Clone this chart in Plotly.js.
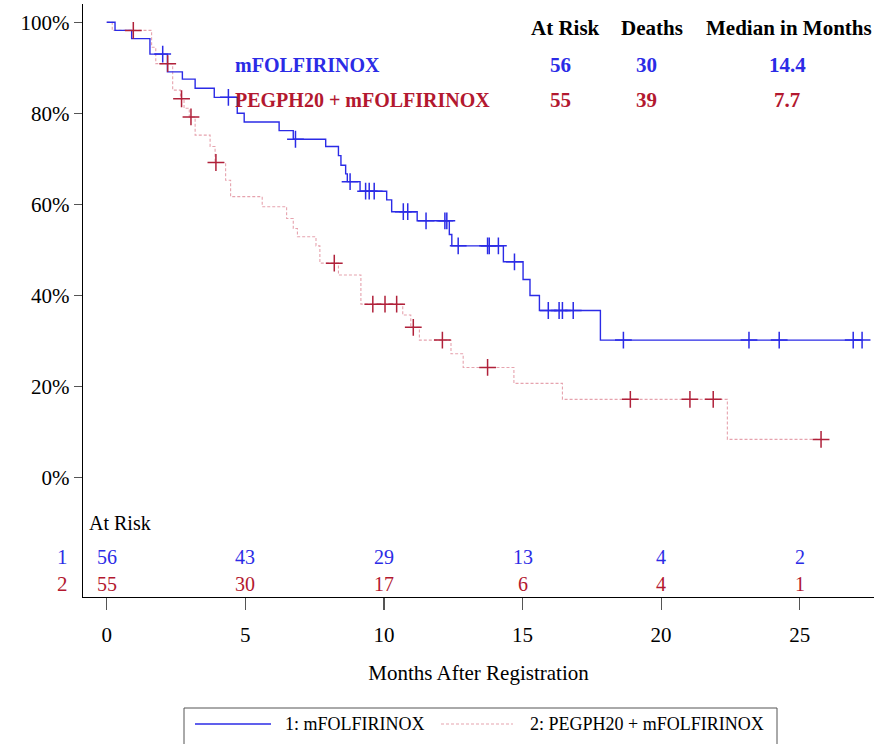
<!DOCTYPE html>
<html>
<head>
<meta charset="utf-8">
<script src="https://cdn.plot.ly/plotly-3.0.1.min.js"></script>
<style>html,body{margin:0;padding:0;background:#fff;}#chart{width:884px;height:744px;}</style>
</head>
<body>
<div id="chart"></div>
<script>
// ---- Data ----
const arm1Name = "mFOLFIRINOX";
const arm2Name = "PEGPH20 + mFOLFIRINOX";

// Arm 1: event times (months) and survival (%) after each step
const months1 = [0, 0.3, 0.9, 1.56, 2.19, 2.73, 3.19, 3.88, 4.71, 4.96, 6.22, 6.73, 7.9, 8.36, 8.45, 8.62, 8.68, 9.14, 10.1, 10.28, 11.2, 12.36, 12.45, 14.31, 15.02, 15.27, 15.61, 17.81];
const surv1   = [100, 98.2, 96.4, 93.0, 89.1, 87.5, 85.5, 83.5, 80.0, 78.1, 76.2, 74.3, 72.7, 70.7, 68.6, 66.7, 65.0, 62.9, 61.0, 58.4, 56.4, 53.4, 50.9, 47.4, 43.5, 40.0, 36.7, 30.2];
const censor1 = [2.02, 4.39, 6.81, 8.78, 9.34, 9.47, 9.65, 10.7, 10.86, 11.52, 12.2, 12.27, 12.68, 13.74, 13.8, 14.13, 14.71, 15.93, 16.32, 16.44, 16.83, 18.64, 23.17, 24.26, 26.93, 27.25];

// Arm 2
const months2 = [0, 0.2, 1.62, 1.77, 2.38, 2.66, 2.79, 2.98, 3.19, 3.73, 3.91, 4.29, 4.47, 5.61, 6.49, 6.73, 6.88, 7.55, 7.69, 8.36, 9.17, 10.68, 10.97, 11.28, 12.42, 12.86, 14.69, 16.44, 22.39];
const surv2   = [100, 98.2, 94.5, 90.9, 85.1, 83.2, 81.1, 79.2, 75.2, 72.7, 69.2, 65.3, 61.7, 59.5, 56.9, 54.7, 52.9, 50.9, 47.1, 44.5, 38.1, 35.7, 33.0, 30.2, 27.2, 24.2, 20.7, 17.2, 8.4];
const censor2 = [0.96, 2.2, 2.7, 3.04, 3.94, 8.21, 9.6, 10.04, 10.46, 11.06, 12.11, 13.74, 18.89, 21.04, 21.88, 25.77];

// Summary table
const summaryHeaders = ["At Risk", "Deaths", "Median in Months"];
const summaryArm1 = ["56", "30", "14.4"];
const summaryArm2 = ["55", "39", "7.7"];

// Numbers at risk
const riskTimes = [0, 5, 10, 15, 20, 25];
const risk1 = [56, 43, 29, 13, 4, 2];
const risk2 = [55, 30, 17, 6, 4, 1];

const yTickVals = [0, 20, 40, 60, 80, 100];
const yTickText = ["0%", "20%", "40%", "60%", "80%", "100%"];
const xTickVals = [0, 5, 10, 15, 20, 25];

// ---- Styles ----
const FONT = "Liberation Serif, Times New Roman, serif";
const BLUE = "#2B2BE6";
const RED_TEXT = "#B3182F";
const RED_LINE = "#E6A3AE";
const RED_MARK = "#B0213A";

// Layout geometry (pixels)
const W = 884, H = 744;
const M = {l: 83, r: 10, t: 4, b: 147};
const PW = W - M.l - M.r, PH = H - M.t - M.b;
const px2x = p => (p - M.l) / PW;
const px2y = p => (H - M.b - p) / PH;

function survAt(times, surv, t) {
  let s = surv[0];
  for (let i = 0; i < times.length; i++) if (times[i] <= t) s = surv[i];
  return s;
}

function stepTrace(times, surv, censors, color, dash, width) {
  const last = Math.max(times[times.length - 1], censors[censors.length - 1]);
  return {
    type: "scatter", mode: "lines",
    x: times.concat([last]), y: surv.concat([surv[surv.length - 1]]),
    line: {shape: "hv", color: color, width: width, dash: dash},
    showlegend: false, hoverinfo: "skip"
  };
}
function censorTrace(times, surv, censors, color, size) {
  return {
    type: "scatter", mode: "markers",
    x: censors, y: censors.map(t => survAt(times, surv, t)),
    marker: {symbol: "cross-thin", size: size, color: color, line: {color: color, width: 1.5}},
    showlegend: false, hoverinfo: "skip", cliponaxis: false
  };
}

const traces = [
  stepTrace(months2, surv2, censor2, RED_LINE, "3px,2px", 1.1),
  stepTrace(months1, surv1, censor1, BLUE, "solid", 1.4),
  censorTrace(months2, surv2, censor2, RED_MARK, 12),
  censorTrace(months1, surv1, censor1, BLUE, 12)
];

const annotations = [];
// summary table header
const colX = [565, 652, 789];
const valX = [560, 646, 787];
summaryHeaders.forEach((h, i) => annotations.push({
  text: h, xref: "paper", yref: "paper", x: px2x(colX[i]), y: px2y(28),
  xanchor: "center", yanchor: "middle", showarrow: false,
  font: {family: FONT, size: 21, color: "#000", weight: "bold"}
}));
annotations.push({text: arm1Name, xref: "paper", yref: "paper", x: px2x(233), y: px2y(65),
  xanchor: "left", yanchor: "middle", showarrow: false, font: {family: FONT, size: 20, color: BLUE, weight: "bold"}});
annotations.push({text: arm2Name, xref: "paper", yref: "paper", x: px2x(233), y: px2y(100),
  xanchor: "left", yanchor: "middle", showarrow: false, font: {family: FONT, size: 20, color: RED_TEXT, weight: "bold"}});
summaryArm1.forEach((v, i) => annotations.push({
  text: v, xref: "paper", yref: "paper", x: px2x(valX[i]), y: px2y(65),
  xanchor: "center", yanchor: "middle", showarrow: false,
  font: {family: FONT, size: 21, color: BLUE, weight: "bold"}
}));
summaryArm2.forEach((v, i) => annotations.push({
  text: v, xref: "paper", yref: "paper", x: px2x(valX[i]), y: px2y(100),
  xanchor: "center", yanchor: "middle", showarrow: false,
  font: {family: FONT, size: 21, color: RED_TEXT, weight: "bold"}
}));

// At-risk table
annotations.push({text: "At Risk", xref: "paper", yref: "paper", x: px2x(87), y: px2y(523),
  xanchor: "left", yanchor: "middle", showarrow: false, font: {family: FONT, size: 20, color: "#000"}});
annotations.push({text: "1", xref: "paper", yref: "paper", x: px2x(62), y: px2y(557),
  xanchor: "center", yanchor: "middle", showarrow: false, font: {family: FONT, size: 21, color: BLUE}});
annotations.push({text: "2", xref: "paper", yref: "paper", x: px2x(62), y: px2y(584),
  xanchor: "center", yanchor: "middle", showarrow: false, font: {family: FONT, size: 21, color: RED_TEXT}});
riskTimes.forEach((t, i) => {
  annotations.push({text: String(risk1[i]), xref: "x", yref: "paper", x: t, y: px2y(557),
    xanchor: "center", yanchor: "middle", showarrow: false, font: {family: FONT, size: 20, color: BLUE}});
  annotations.push({text: String(risk2[i]), xref: "x", yref: "paper", x: t, y: px2y(584),
    xanchor: "center", yanchor: "middle", showarrow: false, font: {family: FONT, size: 20, color: RED_TEXT}});
});

// Custom legend
annotations.push({text: "1: " + arm1Name, xref: "paper", yref: "paper", x: px2x(283), y: px2y(724),
  xanchor: "left", yanchor: "middle", showarrow: false, font: {family: FONT, size: 18, color: "#000"}});
annotations.push({text: "2: " + arm2Name, xref: "paper", yref: "paper", x: px2x(528), y: px2y(724),
  xanchor: "left", yanchor: "middle", showarrow: false, font: {family: FONT, size: 18, color: "#000"}});

const shapes = [
  {type: "rect", xref: "paper", yref: "paper", x0: px2x(184), x1: px2x(777), y0: px2y(708), y1: px2y(760),
   line: {color: "#555", width: 1}, fillcolor: "rgba(0,0,0,0)"},
  {type: "line", xref: "paper", yref: "paper", x0: px2x(195), x1: px2x(271), y0: px2y(724), y1: px2y(724),
   line: {color: BLUE, width: 1.4}},
  {type: "line", xref: "paper", yref: "paper", x0: px2x(441), x1: px2x(513), y0: px2y(724), y1: px2y(724),
   line: {color: RED_LINE, width: 1.1, dash: "3px,2px"}}
];

const layout = {
  width: W, height: H,
  margin: M,
  paper_bgcolor: "#fff", plot_bgcolor: "#fff",
  font: {family: FONT, color: "#000"},
  showlegend: false,
  xaxis: {
    range: [-0.855, 27.68], tickvals: xTickVals, ticks: "outside", ticklen: 12, tickwidth: 1.2, tickcolor: "#555",
    showline: true, linecolor: "#000", linewidth: 1.3, showgrid: false, zeroline: false,
    tickfont: {family: FONT, size: 21, color: "#000"}, ticklabelstandoff: 6,
    title: {text: "Months After Registration", font: {family: FONT, size: 21, color: "#000"}, standoff: 19}
  },
  yaxis: {
    range: [-26.2, 104.0], tickvals: yTickVals, ticktext: yTickText, ticks: "outside", ticklen: 8, tickwidth: 1.2, tickcolor: "#555",
    showline: true, linecolor: "#000", linewidth: 1.3, showgrid: false, zeroline: false,
    tickfont: {family: FONT, size: 21, color: "#000"}
  },
  annotations: annotations,
  shapes: shapes
};

Plotly.newPlot("chart", traces, layout, {displayModeBar: false, staticPlot: true});
</script>
</body>
</html>
